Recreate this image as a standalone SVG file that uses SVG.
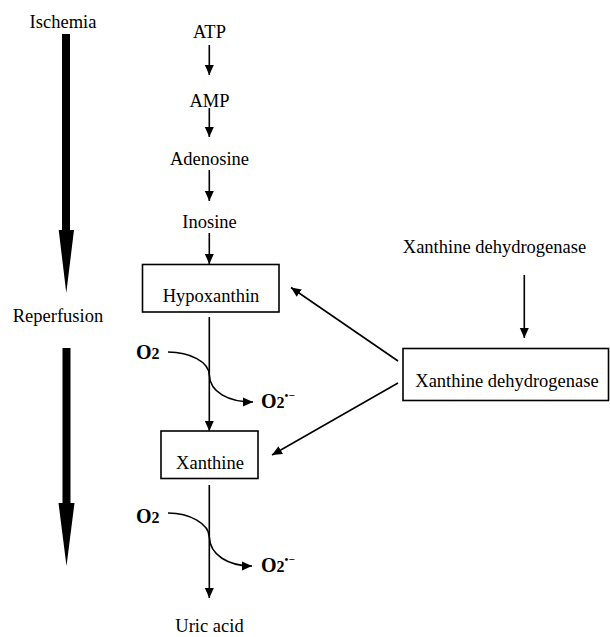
<svg xmlns="http://www.w3.org/2000/svg" width="610" height="637" viewBox="0 0 610 637">
<style>
  text { font-family: "Liberation Serif", "Times New Roman", serif; font-size: 18.5px; fill: #000; }
  .c { text-anchor: middle; }
  .b { font-weight: bold; font-size: 20px; }
  .box { fill: #fff; stroke: #000; stroke-width: 1.6; }
  .ln { fill: none; stroke: #000; stroke-width: 1.6; }
</style>
<defs>
  <marker id="ah" markerWidth="10" markerHeight="10" refX="10" refY="5" orient="auto" markerUnits="userSpaceOnUse">
    <path d="M0,0.5 L10,5 L0,9.5 Z" fill="#000"/>
  </marker>
</defs>
<rect width="610" height="637" fill="#fff"/>

<g id="phase-arrows">
  <text class="c" x="63" y="28">Ischemia</text>
  <path d="M62,34 H70 V230 H74 L66.3,293 L58.7,230 H62 Z" fill="#000"/>
  <text class="c" x="58" y="322">Reperfusion</text>
  <path d="M62.5,348 H70.5 V503 H74.5 L66.5,566 L58.5,503 H62.5 Z" fill="#000"/>
</g>

<g id="n-atp"><text class="c" x="209.5" y="38">ATP</text></g>
<g id="n-amp"><text class="c" x="209.5" y="107">AMP</text></g>
<g id="n-adenosine"><text class="c" x="209.5" y="165">Adenosine</text></g>
<g id="n-inosine"><text class="c" x="209.5" y="228">Inosine</text></g>
<g id="n-hypoxanthin">
  <rect class="box" x="142.5" y="264.5" width="136.5" height="47.5"/>
  <text class="c" x="211" y="302">Hypoxanthin</text>
</g>
<g id="n-xanthine">
  <rect class="box" x="161" y="431" width="97" height="47.5"/>
  <text class="c" x="210" y="469">Xanthine</text>
</g>
<g id="n-uric"><text class="c" x="209.5" y="632">Uric acid</text></g>
<g id="n-xdh-top"><text class="c" x="494.5" y="253">Xanthine dehydrogenase</text></g>
<g id="n-xdh">
  <rect class="box" x="403" y="348.5" width="205.5" height="52"/>
  <text class="c" x="507" y="387">Xanthine dehydrogenase</text>
</g>

<g id="o2-labels">
  <text class="b" x="136" y="359">O<tspan font-size="16">2</tspan></text>
  <text class="b" x="261" y="408">O<tspan font-size="16">2</tspan><tspan font-size="11" dy="-9">•−</tspan></text>
  <text class="b" x="136" y="523">O<tspan font-size="16">2</tspan></text>
  <text class="b" x="261" y="572">O<tspan font-size="16">2</tspan><tspan font-size="11" dy="-9">•−</tspan></text>
</g>

<g id="connectors">
  <line class="ln" x1="209.3" y1="45" x2="209.3" y2="75" marker-end="url(#ah)"/>
  <line class="ln" x1="209.3" y1="108" x2="209.3" y2="137" marker-end="url(#ah)"/>
  <line class="ln" x1="209.3" y1="170" x2="209.3" y2="201" marker-end="url(#ah)"/>
  <line class="ln" x1="209.3" y1="233" x2="209.3" y2="264" marker-end="url(#ah)"/>
  <line class="ln" x1="209.3" y1="317" x2="209.3" y2="431" marker-end="url(#ah)"/>
  <path class="ln" d="M168,352 C190,352 209,362 209.3,375 C210,392 228,402 253,402" marker-end="url(#ah)"/>
  <line class="ln" x1="209.3" y1="485" x2="209.3" y2="598" marker-end="url(#ah)"/>
  <path class="ln" d="M168,513 C190,513 209,524 209.3,537 C210,555 228,566 252,566" marker-end="url(#ah)"/>
  <line class="ln" x1="524.3" y1="275" x2="524.3" y2="338" marker-end="url(#ah)"/>
  <line class="ln" x1="398" y1="361" x2="291" y2="287.5" marker-end="url(#ah)"/>
  <line class="ln" x1="398" y1="383" x2="272" y2="455" marker-end="url(#ah)"/>
</g>
</svg>
